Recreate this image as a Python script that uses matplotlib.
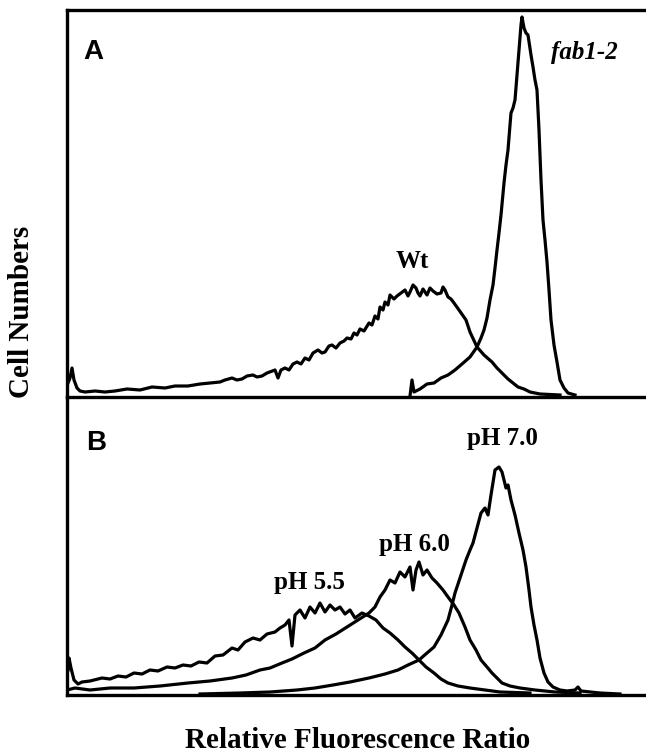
import matplotlib
matplotlib.use('Agg')
import matplotlib.pyplot as plt

# channel (x) and cell count (y)
wt_x = [1, 3, 5, 7, 10, 13, 18, 28, 38, 48, 60, 73, 85, 98, 108, 121, 133, 143, 153, 158,
        165, 170, 175, 180, 186, 190, 195, 200, 208, 211, 214, 218, 222, 226, 230, 234, 238, 242, 246, 251,
        255, 258, 262, 265, 269, 273, 277, 280, 284, 287, 290, 293, 297, 302, 305, 308, 311, 313, 316, 318,
        321, 323, 327, 330, 334, 338, 341, 343, 346, 349, 351, 353, 356, 358, 360, 363, 366, 370, 374, 376,
        378, 381, 384, 387, 392, 399, 403, 410, 417, 425, 430, 435, 441, 446, 451, 457, 463, 473, 493]
wt_y = [14, 19, 29, 17, 9, 6, 5, 6, 5, 6, 8, 7, 10, 9, 11, 11, 13, 14, 15, 17,
        19, 17, 18, 21, 22, 20, 21, 24, 27, 19, 27, 29, 27, 33, 35, 33, 39, 37, 44, 47,
        44, 45, 51, 52, 49, 54, 56, 59, 58, 64, 62, 68, 66, 74, 72, 81, 78, 90, 87, 95,
        92, 102, 98, 101, 104, 107, 101, 105, 112, 109, 104, 101, 108, 105, 102, 109, 106, 103, 104, 110,
        107, 100, 98, 94, 87, 77, 65, 50, 42, 35, 29, 24, 18, 14, 10, 8, 5, 3, 2]

fab_x = [343, 345, 347, 353, 360, 367, 374, 381, 388, 395, 403, 410, 414, 417, 420, 423, 426, 428, 430, 432,
         434, 437, 439, 441, 443, 444, 446, 448, 450, 452, 454, 455, 457, 459, 461, 464, 466, 468, 470, 472,
         474, 476, 478, 480, 482, 484, 487, 490, 493, 497, 501, 508]
fab_y = [1, 17, 5, 8, 13, 14, 19, 22, 27, 33, 40, 50, 59, 67, 79, 97, 112, 129, 147, 164,
         182, 214, 232, 247, 272, 284, 289, 297, 322, 347, 372, 380, 369, 364, 362, 342, 330, 317, 307, 267,
         217, 177, 157, 135, 107, 77, 52, 35, 17, 9, 4, 2]

ph55_x = [1, 2, 4, 7, 11, 15, 23, 35, 43, 51, 59, 67, 75, 83, 91, 100, 108, 116, 124, 132,
          140, 148, 156, 165, 171, 178, 186, 193, 200, 208, 213, 218, 222, 225, 228, 233, 238, 243, 248, 253,
          258, 263, 268, 273, 278, 283, 288, 295, 302, 309, 316, 323, 331, 338, 345, 352, 359, 367, 374, 381,
          391, 403, 418, 433, 463]
ph55_y = [25, 37, 27, 15, 11, 13, 14, 17, 16, 19, 18, 22, 21, 25, 24, 28, 27, 30, 29, 33,
          32, 39, 40, 47, 45, 53, 57, 55, 61, 63, 67, 70, 75, 49, 80, 85, 77, 88, 82, 92,
          83, 90, 85, 88, 81, 85, 77, 82, 79, 75, 67, 62, 55, 48, 42, 35, 28, 22, 16, 12,
          9, 7, 5, 3, 2]

ph60_x = [0, 8, 23, 43, 67, 93, 121, 143, 165, 179, 193, 203, 215, 225, 237, 248, 258, 269, 280, 291,
          302, 308, 313, 318, 323, 328, 333, 338, 343, 346, 349, 352, 356, 360, 365, 370, 376, 381, 387, 392,
          398, 403, 409, 414, 420, 425, 430, 435, 443, 453, 468, 488, 513]
ph60_y = [5, 7, 5, 7, 7, 9, 12, 14, 17, 20, 25, 27, 32, 36, 42, 47, 55, 61, 68, 75,
          82, 88, 98, 105, 115, 112, 123, 118, 128, 105, 125, 133, 120, 125, 117, 112, 105, 98, 90, 82,
          68, 55, 45, 35, 28, 22, 17, 12, 9, 7, 5, 3, 2]

ph70_x = [133, 173, 203, 230, 248, 266, 283, 302, 318, 331, 341, 352, 360, 367, 374, 381, 385, 388, 393, 399,
          403, 406, 410, 414, 418, 421, 424, 428, 432, 435, 437, 439, 441, 444, 448, 452, 456, 459, 462, 464,
          467, 470, 473, 477, 481, 486, 493, 500, 508, 511, 514, 533, 553]
ph70_y = [1, 2, 3, 5, 7, 10, 13, 17, 21, 25, 30, 35, 42, 48, 60, 75, 90, 102, 117, 135,
          145, 152, 167, 182, 187, 180, 200, 225, 228, 223, 215, 207, 210, 195, 180, 162, 145, 128, 105, 88,
          70, 55, 37, 22, 13, 8, 5, 4, 5, 8, 4, 2, 1]

SERIF = 'Liberation Serif'
SANS = 'Liberation Sans'
W, H = 646, 755

fig = plt.figure(figsize=(W / 100, H / 100), dpi=100)
ax_a = fig.add_axes([67 / W, 1 - 397 / H, 579 / W, 387 / H])
ax_b = fig.add_axes([67 / W, 1 - 695 / H, 579 / W, 298 / H])

for ax in (ax_a, ax_b):
    ax.set_xlim(0, 579)
    ax.set_xticks([])
    ax.set_yticks([])
    ax.patch.set_visible(False)
    ax.spines['right'].set_visible(False)
    for s in ('left', 'bottom', 'top'):
        ax.spines[s].set_linewidth(2.4)
ax_b.spines['top'].set_visible(False)
ax_a.set_ylim(0, 387)
ax_b.set_ylim(0, 298)

lw = 2.3
ax_a.plot(wt_x, wt_y, color='black', lw=lw)
ax_a.plot(fab_x, fab_y, color='black', lw=lw)
ax_b.plot(ph55_x, ph55_y, color='black', lw=lw)
ax_b.plot(ph60_x, ph60_y, color='black', lw=lw)
ax_b.plot(ph70_x, ph70_y, color='black', lw=lw)

lab = dict(family=SERIF, weight='bold', fontsize=18, ha='center', va='center')
ax_a.text(345, 135, 'Wt', **lab)
ax_a.text(517, 345, 'fab1-2', style='italic', **lab)
ax_b.text(435, 257, 'pH 7.0', **lab)
ax_b.text(347, 150, 'pH 6.0', **lab)
ax_b.text(242, 112, 'pH 5.5', **lab)

ax_a.text(0.045, 0.891, 'A', transform=ax_a.transAxes, family=SANS, weight='bold',
          fontsize=20, ha='center', va='center')
ax_b.text(0.050, 0.846, 'B', transform=ax_b.transAxes, family=SANS, weight='bold',
          fontsize=20, ha='center', va='center')

fig.text(22 / W, 1 - 312 / H, 'Cell Numbers', rotation=90, family=SERIF, weight='bold',
         fontsize=21, ha='center', va='center')
fig.text(358 / W, 1 - 748 / H, 'Relative Fluorescence Ratio', family=SERIF, weight='bold',
         fontsize=21, ha='center', va='baseline')

fig.savefig('out.png', dpi=100)
